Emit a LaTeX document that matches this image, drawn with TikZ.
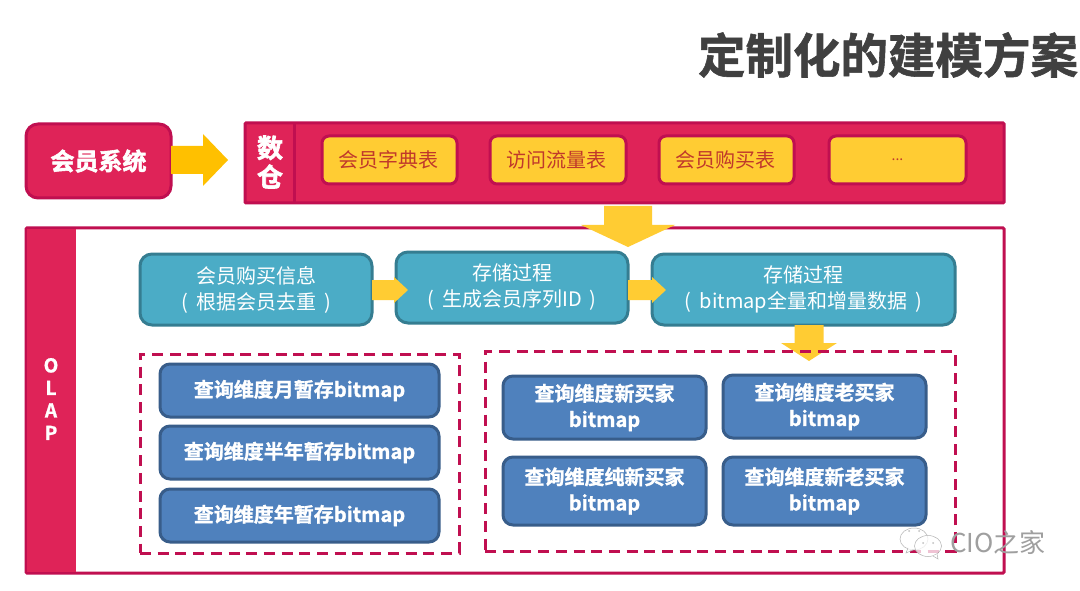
\documentclass[tikz,border=0pt]{standalone}
\usepackage{fontspec}
\usetikzlibrary{calc}
\setmainfont{Noto Sans CJK SC}
\newfontfamily\heavycjk[FakeBold=1.2]{Noto Sans CJK SC Bold}
\newfontfamily\blobcjk[FakeBold=2.4]{Noto Sans CJK SC Bold}
\definecolor{crimson}{HTML}{DF2358}
\definecolor{crimsonb}{HTML}{C00F50}
\definecolor{gold}{HTML}{FFCC33}
\definecolor{amber}{HTML}{FFC000}
\definecolor{teal}{HTML}{4BACC6}
\definecolor{tealb}{HTML}{357D91}
\definecolor{steel}{HTML}{4F81BD}
\definecolor{steelb}{HTML}{385D8A}
\definecolor{titlegray}{HTML}{404040}
\definecolor{brick}{HTML}{C0392B}
\newcommand\fsz[2]{\fontsize{#1}{#2}\selectfont}
% box from corner coordinates: style, name, x1, y1, x2, y2, text
\newcommand\bx[7]{\node[#1,minimum width={(#5-#3)*1pt},minimum height={(#6-#4)*1pt}] (#2) at ({(#3+#5)/2},{(#4+#6)/2}) {#7};}
% block arrows: colour, start, tip, half body, half head, head length
\newcommand\rarrow[6]{\fill[#1] let \p1=(#2),\p2=(#3) in
  (\x1,\y2+#4) -- (\x2-#6,\y2+#4) -- (\x2-#6,\y2+#5) -- (\x2,\y2) -- (\x2-#6,\y2-#5) -- (\x2-#6,\y2-#4) -- (\x1,\y2-#4) -- cycle;}
\newcommand\darrow[6]{\fill[#1] let \p1=(#2),\p2=(#3) in
  (\x2+#4,\y1) -- (\x2+#4,\y2+#6) -- (\x2+#5,\y2+#6) -- (\x2,\y2) -- (\x2-#5,\y2+#6) -- (\x2-#4,\y2+#6) -- (\x2-#4,\y1) -- cycle;}
\newcommand\lp{(\hspace{8pt}}
\newcommand\rp{\hspace{8pt})}
\tikzset{
  basebox/.style={inner sep=0pt,outer sep=0pt,align=center,line width=3pt},
  redround/.style={basebox,rectangle,rounded corners=12pt,fill=crimson,draw=crimsonb,text=white},
  redsquare/.style={basebox,rectangle,rounded corners=1pt,fill=crimson,draw=crimsonb},
  frame/.style={basebox,rectangle,rounded corners=1pt,fill=white,draw=crimsonb},
  column/.style={basebox,rectangle,fill=crimson,draw=none,text=white},
  yellowbox/.style={basebox,rectangle,rounded corners=7pt,fill=gold,draw=crimsonb,text=brick,font=\fsz{20}{26}},
  tealbox/.style={basebox,rectangle,rounded corners=12pt,fill=teal,draw=tealb,text=white,font=\fsz{20}{26}},
  bluebox/.style={basebox,rectangle,rounded corners=10pt,fill=steel,draw=steelb,text=white,font=\heavycjk\fsz{20}{26}},
  dashbox/.style={rectangle,draw=crimsonb,line width=3pt,dash pattern=on 11pt off 6.7pt,inner sep=0pt,outer sep=0pt},
  vlabel/.style={inner sep=0pt,align=center,text=white},
  wmbubble/.style={draw=gray!60,line width=.5pt,fill=white,fill opacity=.75},
  wmtext/.style={inner sep=0pt,text=gray!75,font=\fsz{26}{28}},
  titletext/.style={inner sep=0pt,text=titlegray,font=\heavycjk\fsz{47.5}{50}}
}
\begin{document}
\begin{tikzpicture}[x=1pt,y=-1pt]
\useasboundingbox (0,0) rectangle (1080,591);
\fill[white] (0,0) rectangle (1080,591);
\node[titletext] (title) at (888,55) {定制化的建模方案};

\bx{redround,font=\blobcjk\fsz{24}{28}}{member}{26}{124}{171}{198}{会员系统}
\bx{redsquare}{warehouse}{245}{123}{1004}{203}{}
\draw[crimsonb,line width=3pt] (warehouse.north west -| 294,0) -- (warehouse.south west -| 294,0);
\node[vlabel,font=\blobcjk\fsz{26}{29}] (shucang) at (270,162) {数\\仓};
\bx{yellowbox}{y1}{322}{136}{457}{184}{\hspace{-3pt}会员字典表}
\bx{yellowbox}{y2}{490}{136}{626}{184}{\hspace{-3pt}访问流量表}
\bx{yellowbox}{y3}{659}{136}{794}{184}{\hspace{-3pt}会员购买表}
\bx{yellowbox,font=\fsz{14}{16}}{y4}{829}{136}{966}{184}{...}

\bx{frame}{olap}{26}{228}{1004}{573}{}
\bx{column}{olapcol}{27}{229.5}{76}{571.5}{}
\node[vlabel,font=\heavycjk\fsz{19}{22.5}] (olaptext) at (51,399) {O\\L\\A\\P};

\bx{tealbox}{t1}{140}{254}{372}{325}{会员购买信息\\\lp 根据会员去重\rp}
\bx{tealbox}{t2}{396}{252}{628}{323}{存储过程\\\lp 生成会员序列ID\rp}
\bx{tealbox}{t3}{652}{254}{955}{325}{存储过程\\\lp bitmap全量和增量数据\rp}

\coordinate (tip1) at (228,160);
\coordinate (tip2) at (628,247);
\coordinate (tip3) at (408,290);
\coordinate (tip4) at (666,290);
\coordinate (tip5) at (809,361);
\rarrow{amber}{member.east}{tip1}{14pt}{26pt}{25pt}
\darrow{gold}{$(y2.south)+(0,22)$}{tip2}{24pt}{47pt}{22pt}
\rarrow{gold}{t1.east}{tip3}{10pt}{13pt}{14pt}
\rarrow{gold}{t2.east}{tip4}{10pt}{13pt}{14pt}
\darrow{gold}{t3.south}{tip5}{14.5pt}{28pt}{18pt}

\bx{dashbox}{leftdash}{140}{354}{459}{553}{}
\bx{dashbox}{rightdash}{485}{351}{955}{551}{}

\bx{bluebox}{b1}{160}{364}{439}{417}{查询维度月暂存bitmap}
\bx{bluebox}{b2}{160}{426}{439}{479}{查询维度半年暂存bitmap}
\bx{bluebox}{b3}{160}{489}{439}{542}{查询维度年暂存bitmap}
\bx{bluebox}{c1}{503}{376}{706}{439}{查询维度新买家\\bitmap}
\bx{bluebox}{c2}{723}{375}{926}{438}{查询维度老买家\\bitmap}
\bx{bluebox}{c3}{503}{457}{706}{525}{查询维度纯新买家\\bitmap}
\bx{bluebox}{c4}{723}{457}{926}{525}{查询维度新老买家\\bitmap}

% watermark
\draw[wmbubble] (914,539) ellipse [x radius=14,y radius=11];
\draw[wmbubble] (908,548) -- (906,553) -- (913,550);
\draw[wmbubble] (928,546) ellipse [x radius=13.5,y radius=10.5];
\draw[wmbubble] (933,556) -- (938,559) -- (937,554);
\fill[gray!50] (909,531) circle (1) (919,531) circle (1) (923,543) circle (1) (933,543) circle (1);
\node[wmtext,anchor=west] (wm) at (950,543) {CIO之家};
\end{tikzpicture}
\end{document}
